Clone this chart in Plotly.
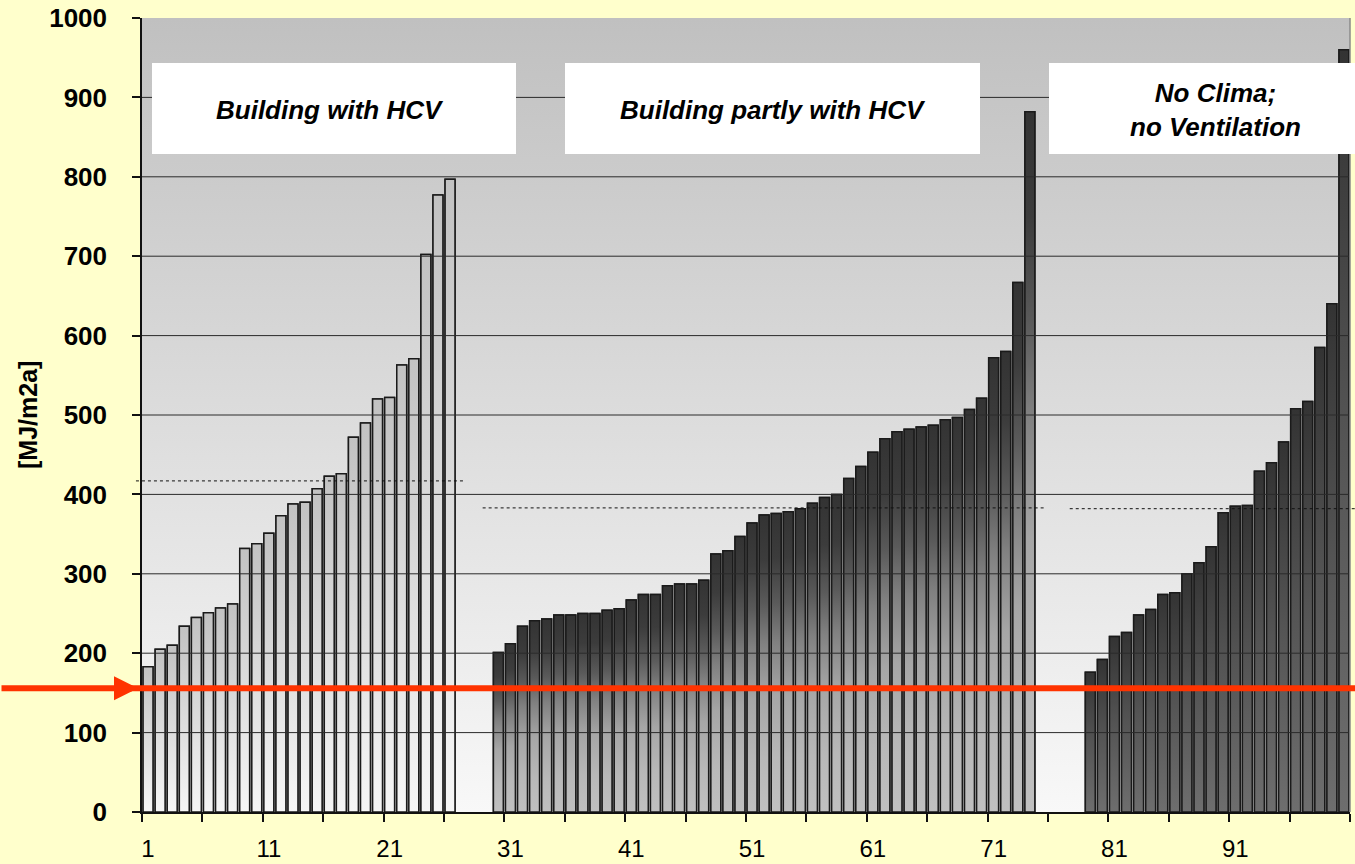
import base64
import plotly.graph_objects as go

# ---------------- data ----------------
cats_hcv = list(range(1, 27))
vals_hcv = [183, 205, 210, 234, 245, 251, 257, 262, 332, 338, 351, 373, 388,
            390, 407, 423, 426, 472, 490, 520, 522, 563, 571, 702, 777, 797]

cats_partly = list(range(30, 75))
vals_partly = [201, 212, 234, 241, 243, 248, 248, 250, 250, 254, 256, 267, 274,
               274, 285, 287, 287, 292, 325, 329, 347, 364, 374, 376, 378, 382,
               389, 396, 400, 420, 435, 453, 470, 479, 482, 485, 487, 494, 497,
               507, 521, 572, 580, 667, 882]

cats_noclima = list(range(79, 101))
vals_noclima = [176, 192, 221, 226, 248, 255, 274, 276, 300, 314, 334, 377, 385,
                386, 429, 440, 466, 508, 517, 585, 640, 960]

group_labels = ["Building with HCV", "Building partly with HCV",
                "No Clima;<br>no Ventilation"]
group_avg = [417, 383, 382]
group_avg_from = [0.0, 28.7, 77.3]
group_avg_to = [27.3, 75.3, 100.9]

target_value = 156

x_ticks = [1, 11, 21, 31, 41, 51, 61, 71, 81, 91]
y_ticks = [0, 100, 200, 300, 400, 500, 600, 700, 800, 900, 1000]

# ---------------- geometry helpers ----------------
W, H = 1355, 864
L, R, T, B = 142, 5, 18, 52
PW = W - L - R
PH = H - T - B
XMIN, XMAX = 0.5, 100.5
BARW = 0.82


def px_x(px):
    return (px - L) / PW


def px_y(py):
    return (H - B - py) / PH


def data_to_paper_x(xd):
    return (xd - XMIN) / (XMAX - XMIN)


fig = go.Figure()

groups = [
    (cats_hcv, vals_hcv, [[0, "#f6f6f6"], [1, "#c2c2c2"]], "#c8c8c8"),
    (cats_partly, vals_partly,
     [[0, "#c0c0c0"], [0.18, "#b8b8b8"], [0.39, "#a6a6a6"], [0.57, "#808080"],
      [0.7, "#5a5a5a"], [0.85, "#3c3c3c"], [1, "#333333"]], "#555555"),
    (cats_noclima, vals_noclima,
     [[0, "#6e6e6e"], [0.5, "#545454"], [1, "#333333"]], "#444444"),
]

# bar traces (data carriers)
for cats, vals, cs, base_col in groups:
    fig.add_trace(go.Bar(x=cats, y=vals, width=BARW,
                         marker=dict(color=base_col,
                                     line=dict(color="#1a1a1a", width=1.5)),
                         showlegend=False, hoverinfo="x+y"))

# gradient overlay for each bar
for cats, vals, cs, base_col in groups:
    for c, v in zip(cats, vals):
        fig.add_trace(go.Scatter(
            x=[c - BARW / 2, c - BARW / 2, c + BARW / 2, c + BARW / 2, c - BARW / 2],
            y=[0, v, v, 0, 0],
            mode="lines", fill="toself",
            fillgradient=dict(type="vertical", colorscale=cs, start=0, stop=v),
            line=dict(color="#1a1a1a", width=1.5),
            showlegend=False, hoverinfo="skip"))

# background gradient (plot area)
svg = ('<svg xmlns="http://www.w3.org/2000/svg" width="10" height="100" '
       'preserveAspectRatio="none"><defs><linearGradient id="g" x1="0" y1="0" '
       'x2="0" y2="1"><stop offset="0" stop-color="#c0c0c0"/>'
       '<stop offset="1" stop-color="#f8f8f8"/></linearGradient></defs>'
       '<rect width="10" height="100" fill="url(#g)"/></svg>')
uri = "data:image/svg+xml;base64," + base64.b64encode(svg.encode()).decode()

shapes = []
# gridlines
for yv in y_ticks[1:-1]:
    shapes.append(dict(type="line", xref="paper", yref="y", x0=0, x1=1,
                       y0=yv, y1=yv, line=dict(color="#2a2a2a", width=1),
                       layer="above"))
# right border
shapes.append(dict(type="line", xref="paper", yref="paper", x0=1, x1=1,
                   y0=0, y1=1, line=dict(color="#8a8a8a", width=1.5),
                   layer="above"))
# average dotted lines
for a, x0, x1 in zip(group_avg, group_avg_from, group_avg_to):
    shapes.append(dict(type="line", xref="paper", yref="y",
                       x0=data_to_paper_x(x0), x1=data_to_paper_x(x1),
                       y0=a, y1=a, line=dict(color="#111111", width=1, dash="dot"),
                       layer="above"))
# white label boxes
boxes = [(152, 516), (565, 980), (1049, 1356)]
for bx0, bx1 in boxes:
    shapes.append(dict(type="rect", xref="paper", yref="paper",
                       x0=px_x(bx0), x1=px_x(bx1), y0=px_y(154), y1=px_y(63),
                       fillcolor="white", line=dict(width=0), layer="above"))
# red target line
shapes.append(dict(type="line", xref="paper", yref="y",
                   x0=px_x(130), x1=px_x(1356), y0=target_value, y1=target_value,
                   line=dict(color="#FF3300", width=6), layer="above"))

annotations = []
label_centers = [(330, 110), (773, 110), (1215, 110)]
for txt, (cx, cy) in zip(group_labels, label_centers):
    annotations.append(dict(xref="paper", yref="paper", x=px_x(cx), y=px_y(cy),
                            text="<b><i>" + txt + "</i></b>", showarrow=False,
                            xanchor="center", yanchor="middle", align="center",
                            font=dict(family="Arial", size=26, color="black")))
# arrow head of the red line
annotations.append(dict(xref="paper", yref="y", x=px_x(138), y=target_value,
                        ax=-138, ay=0, text="", showarrow=True, arrowhead=2,
                        arrowsize=0.8, arrowwidth=6, arrowcolor="#FF3300"))
# y axis title
annotations.append(dict(xref="paper", yref="paper", x=px_x(28), y=0.5,
                        text="<b>[MJ/m2a]</b>", showarrow=False, textangle=-90,
                        xanchor="center", yanchor="middle",
                        font=dict(family="Arial", size=25, color="black")))

fig.update_layout(
    width=W, height=H,
    margin=dict(l=L, r=R, t=T, b=B, autoexpand=False),
    paper_bgcolor="#FFFFCC",
    plot_bgcolor="#e0e0e0",
    barmode="overlay",
    showlegend=False,
    shapes=shapes,
    annotations=annotations,
    images=[dict(source=uri, xref="paper", yref="paper", x=0, y=1,
                 sizex=1, sizey=1, xanchor="left", yanchor="top",
                 sizing="stretch", layer="below")],
    xaxis=dict(range=[XMIN, XMAX], tickmode="array", tickvals=x_ticks,
               ticktext=[str(t) for t in x_ticks], ticks="", showgrid=False,
               zeroline=False, showline=True, linecolor="#111111", linewidth=1.5,
               tickfont=dict(family="Arial", size=24, color="black"),
               ticklabelstandoff=14, automargin=False,
               minor=dict(tickmode="linear", tick0=0.5, dtick=5, ticks="outside",
                          ticklen=8, tickcolor="#111111", tickwidth=1.5,
                          showgrid=False)),
    yaxis=dict(range=[0, 1000], tickmode="array", tickvals=y_ticks, ticks="outside",
               ticklen=8, tickcolor="#111111", tickwidth=1.5, showgrid=False,
               zeroline=False, showline=True, linecolor="#111111", linewidth=1.5,
               tickfont=dict(family="Arial", size=26, color="black", weight="bold"),
               ticklabelstandoff=20, automargin=False),
)

fig.write_html(
    "out.html",
    config={"displayModeBar": False},
    post_script="document.body.style.margin='0';"
                "document.body.style.overflow='hidden';"
                "document.documentElement.style.overflow='hidden';",
)
